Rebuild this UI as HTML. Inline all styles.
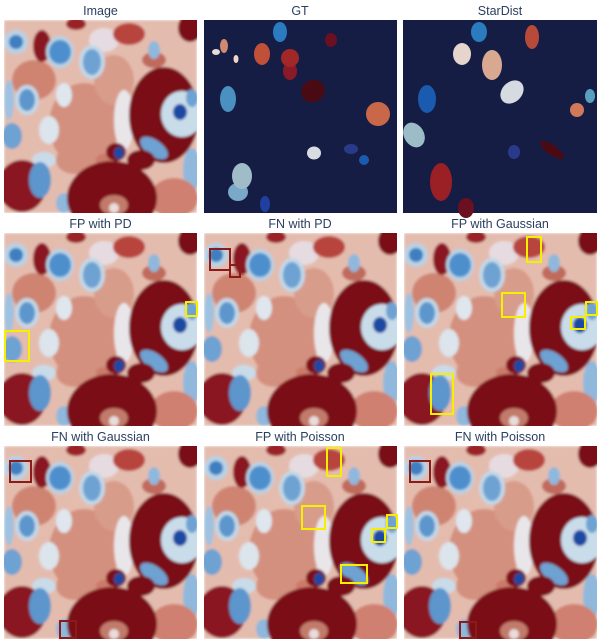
<!DOCTYPE html>
<html><head><meta charset="utf-8">
<style>
html,body{margin:0;padding:0;background:#fff;width:600px;height:640px;overflow:hidden}
svg{display:block}
text{font-family:"Liberation Sans",sans-serif;font-size:12.5px;fill:#2a3f5f}
</style></head>
<body>
<svg width="600" height="640" viewBox="0 0 600 640">
<defs>
<filter id="soft" x="-5%" y="-5%" width="110%" height="110%"><feGaussianBlur stdDeviation="1.2"/></filter>
<clipPath id="pc"><rect x="0" y="0" width="193" height="193"/></clipPath>
<symbol id="tissue" viewBox="0 0 193 193" width="193" height="193">
 <g clip-path="url(#pc)" filter="url(#soft)">
  <rect width="193" height="193" fill="#e4bcae"/>
  <ellipse cx="80" cy="105" rx="35" ry="42" fill="#d4907e"/>
  <ellipse cx="110" cy="60" rx="20" ry="25" fill="#d89c8a"/>
  <ellipse cx="30" cy="60" rx="22" ry="20" fill="#cf8472"/>
  <ellipse cx="70" cy="140" rx="18" ry="14" fill="#d4907e"/>
  <ellipse cx="45" cy="110" rx="10" ry="14" fill="#dce4ec"/>
  <ellipse cx="60" cy="75" rx="8" ry="12" fill="#dfe6ee"/>
  <ellipse cx="120" cy="100" rx="10" ry="30" fill="#e9e6ea"/>
  <ellipse cx="100" cy="20" rx="15" ry="12" fill="#e6dbe0"/>
  <ellipse cx="5" cy="80" rx="5" ry="20" fill="#9ec2e0"/>
  <ellipse cx="40" cy="140" rx="12" ry="8" fill="#c9dbe9"/>
  <ellipse cx="100" cy="140" rx="8" ry="6" fill="#cc7a6a"/>
  <!-- top red patches -->
  <ellipse cx="38" cy="26" rx="9" ry="16" fill="#8a1420"/>
  <ellipse cx="125" cy="14" rx="16" ry="11" fill="#b8443e"/>
  <ellipse cx="186" cy="8" rx="12" ry="14" fill="#7a0c16"/>
  <ellipse cx="72" cy="4" rx="10" ry="6" fill="#9a2228"/>
  <ellipse cx="150" cy="40" rx="12" ry="8" fill="#c06a5c"/>
  <!-- blue nuclei -->
  <ellipse cx="12" cy="22" rx="12" ry="12" fill="#b7d2e6"/>
  <ellipse cx="12" cy="22" rx="7" ry="7" fill="#3e7fc0"/>
  <ellipse cx="56" cy="32" rx="14" ry="16" fill="#b7d2e6"/>
  <ellipse cx="56" cy="32" rx="11" ry="12" fill="#4e8fcc"/>
  <ellipse cx="88" cy="42" rx="13" ry="17" fill="#c2d8e8"/>
  <ellipse cx="88" cy="42" rx="9" ry="13" fill="#6ea2d2"/>
  <ellipse cx="23" cy="80" rx="12" ry="15" fill="#c2d8e8"/>
  <ellipse cx="23" cy="80" rx="8" ry="11" fill="#5b96cc"/>
  <ellipse cx="8" cy="116" rx="10" ry="13" fill="#6ea2d2"/>
  <ellipse cx="150" cy="30" rx="6" ry="9" fill="#8fb8dc"/>
  <ellipse cx="188" cy="150" rx="9" ry="22" fill="#8fb8dc"/>
  <ellipse cx="60" cy="183" rx="8" ry="10" fill="#8fb8dc"/>
  <!-- crescent -->
  <ellipse cx="160" cy="95" rx="35" ry="48" fill="#7a0c16"/>
  <ellipse cx="178" cy="94" rx="21" ry="23" fill="#c8dcea"/>
  <ellipse cx="176" cy="92" rx="7" ry="8" fill="#1a4aa2"/>
  <ellipse cx="188" cy="78" rx="6" ry="9" fill="#6ea2d2"/>
  <!-- mid blobs -->
  <ellipse cx="112" cy="132" rx="10" ry="9" fill="#7a0c16"/>
  <ellipse cx="115" cy="133" rx="5" ry="6" fill="#1a4aa2"/>
  <ellipse cx="150" cy="128" rx="16" ry="8" transform="rotate(35 150 128)" fill="#6ea2d2"/>
  <ellipse cx="137" cy="140" rx="14" ry="10" fill="#7a0c16"/>
  <!-- bottom -->
  <ellipse cx="170" cy="178" rx="24" ry="20" fill="#d08070"/>
  <ellipse cx="18" cy="166" rx="24" ry="26" fill="#8a1420"/>
  <ellipse cx="36" cy="160" rx="11" ry="18" fill="#5b96cc"/>
  <ellipse cx="108" cy="178" rx="45" ry="37" fill="#7a0c16"/>
  <ellipse cx="110" cy="185" rx="14" ry="10" fill="#c27a6a"/>
  <ellipse cx="110" cy="188" rx="5" ry="5" fill="#e8dcdc"/>
 </g>
</symbol>
</defs>

<!-- Titles -->
<text x="100.5" y="15" text-anchor="middle">Image</text>
<text x="300" y="15" text-anchor="middle">GT</text>
<text x="500" y="15" text-anchor="middle">StarDist</text>
<text x="100.5" y="228" text-anchor="middle">FP with PD</text>
<text x="300" y="228" text-anchor="middle">FN with PD</text>
<text x="500" y="228" text-anchor="middle">FP with Gaussian</text>
<text x="100.5" y="441" text-anchor="middle">FN with Gaussian</text>
<text x="300" y="441" text-anchor="middle">FP with Poisson</text>
<text x="500" y="441" text-anchor="middle">FN with Poisson</text>

<!-- Image panels -->
<use href="#tissue" x="4" y="20"/>
<use href="#tissue" x="4" y="233"/>
<use href="#tissue" x="204" y="233"/>
<use href="#tissue" x="404" y="233"/>
<use href="#tissue" x="4" y="446"/>
<use href="#tissue" x="204" y="446"/>
<use href="#tissue" x="404" y="446"/>

<!-- GT panel -->
<g>
 <rect x="204" y="20" width="193" height="193" fill="#161d45"/>
 <ellipse cx="280" cy="32" rx="7" ry="10" fill="#2a7bbf"/>
 <ellipse cx="331" cy="40" rx="6" ry="7" fill="#6a1020"/>
 <ellipse cx="224" cy="46" rx="4" ry="7" fill="#d08a70"/>
 <ellipse cx="216" cy="52" rx="4" ry="3" fill="#e8ddd5"/>
 <ellipse cx="236" cy="59" rx="2.5" ry="4" fill="#f0d5c8"/>
 <ellipse cx="262" cy="54" rx="8" ry="11" fill="#c05038"/>
 <ellipse cx="290" cy="71" rx="7" ry="9" fill="#8a1a28"/>
 <ellipse cx="290" cy="58" rx="9" ry="9" fill="#a02828"/>
 <ellipse cx="313" cy="91" rx="12" ry="11" transform="rotate(-30 313 91)" fill="#4a0a14"/>
 <ellipse cx="228" cy="99" rx="8" ry="13" fill="#4a90c0"/>
 <ellipse cx="378" cy="114" rx="12" ry="12" fill="#c86848"/>
 <ellipse cx="314" cy="153" rx="7" ry="6.5" fill="#d8dde2"/>
 <ellipse cx="351" cy="149" rx="7" ry="5" fill="#2a3a8a"/>
 <circle cx="364" cy="160" r="5" fill="#1a5bb0"/>
 <ellipse cx="238" cy="192" rx="10" ry="9" fill="#7aa8c8"/>
 <ellipse cx="242" cy="176" rx="10" ry="13" fill="#a0bcc8"/>
 <ellipse cx="265" cy="204" rx="5" ry="8" fill="#2040a0"/>
</g>

<!-- StarDist panel -->
<g>
 <rect x="403" y="20" width="194" height="193" fill="#161d45"/>
 <ellipse cx="479" cy="32" rx="8" ry="10" fill="#2a7bbf"/>
 <ellipse cx="532" cy="37" rx="7" ry="12" fill="#b84a3a"/>
 <ellipse cx="462" cy="54" rx="9" ry="11" fill="#e6d5cc"/>
 <ellipse cx="492" cy="65" rx="10" ry="15" fill="#d8a890"/>
 <ellipse cx="427" cy="99" rx="9" ry="14" fill="#1a5bb0"/>
 <ellipse cx="512" cy="92" rx="10" ry="13" transform="rotate(45 512 92)" fill="#d5dbe0"/>
 <ellipse cx="590" cy="96" rx="5" ry="7" fill="#5b9fc0"/>
 <ellipse cx="577" cy="110" rx="7" ry="7" fill="#d0785a"/>
 <ellipse cx="414" cy="135" rx="10" ry="13" transform="rotate(-30 414 135)" fill="#9cbcc8"/>
 <ellipse cx="514" cy="152" rx="6" ry="7" fill="#2a3a8a"/>
 <ellipse cx="552" cy="150" rx="14" ry="5" transform="rotate(35 552 150)" fill="#4a0a14"/>
 <ellipse cx="441" cy="182" rx="11" ry="19" fill="#9a2025"/>
 <ellipse cx="466" cy="208" rx="8" ry="10" fill="#6a1020"/>
</g>

<!-- Boxes -->
<g fill="none" stroke-width="2">
 <rect x="5" y="331" width="24" height="30" stroke="#f5f000"/>
 <rect x="186" y="302" width="11" height="14" stroke="#f5f000"/>
 <rect x="210" y="249" width="20" height="21" stroke="#8b1a1a"/>
 <rect x="230" y="265" width="10" height="12" stroke="#8b1a1a"/>
 <rect x="527" y="237" width="14" height="25" stroke="#f5f000"/>
 <rect x="502" y="293" width="23" height="24" stroke="#f5f000"/>
 <rect x="586" y="302" width="11" height="13" stroke="#f5f000"/>
 <rect x="571" y="317" width="14" height="12" stroke="#f5f000"/>
 <rect x="431" y="374" width="22" height="40" stroke="#f5f000"/>
 <rect x="10" y="461" width="21" height="21" stroke="#8b1a1a"/>
 <rect x="60" y="621" width="16" height="17" stroke="#8b1a1a"/>
 <rect x="327" y="448" width="14" height="28" stroke="#f5f000"/>
 <rect x="302" y="506" width="23" height="23" stroke="#f5f000"/>
 <rect x="387" y="515" width="10" height="13" stroke="#f5f000"/>
 <rect x="372" y="529" width="13" height="13" stroke="#f5f000"/>
 <rect x="341" y="565" width="26" height="18" stroke="#f5f000"/>
 <rect x="410" y="461" width="20" height="21" stroke="#8b1a1a"/>
 <rect x="460" y="622" width="16" height="16" stroke="#8b1a1a"/>
</g>
</svg>
</body></html>
